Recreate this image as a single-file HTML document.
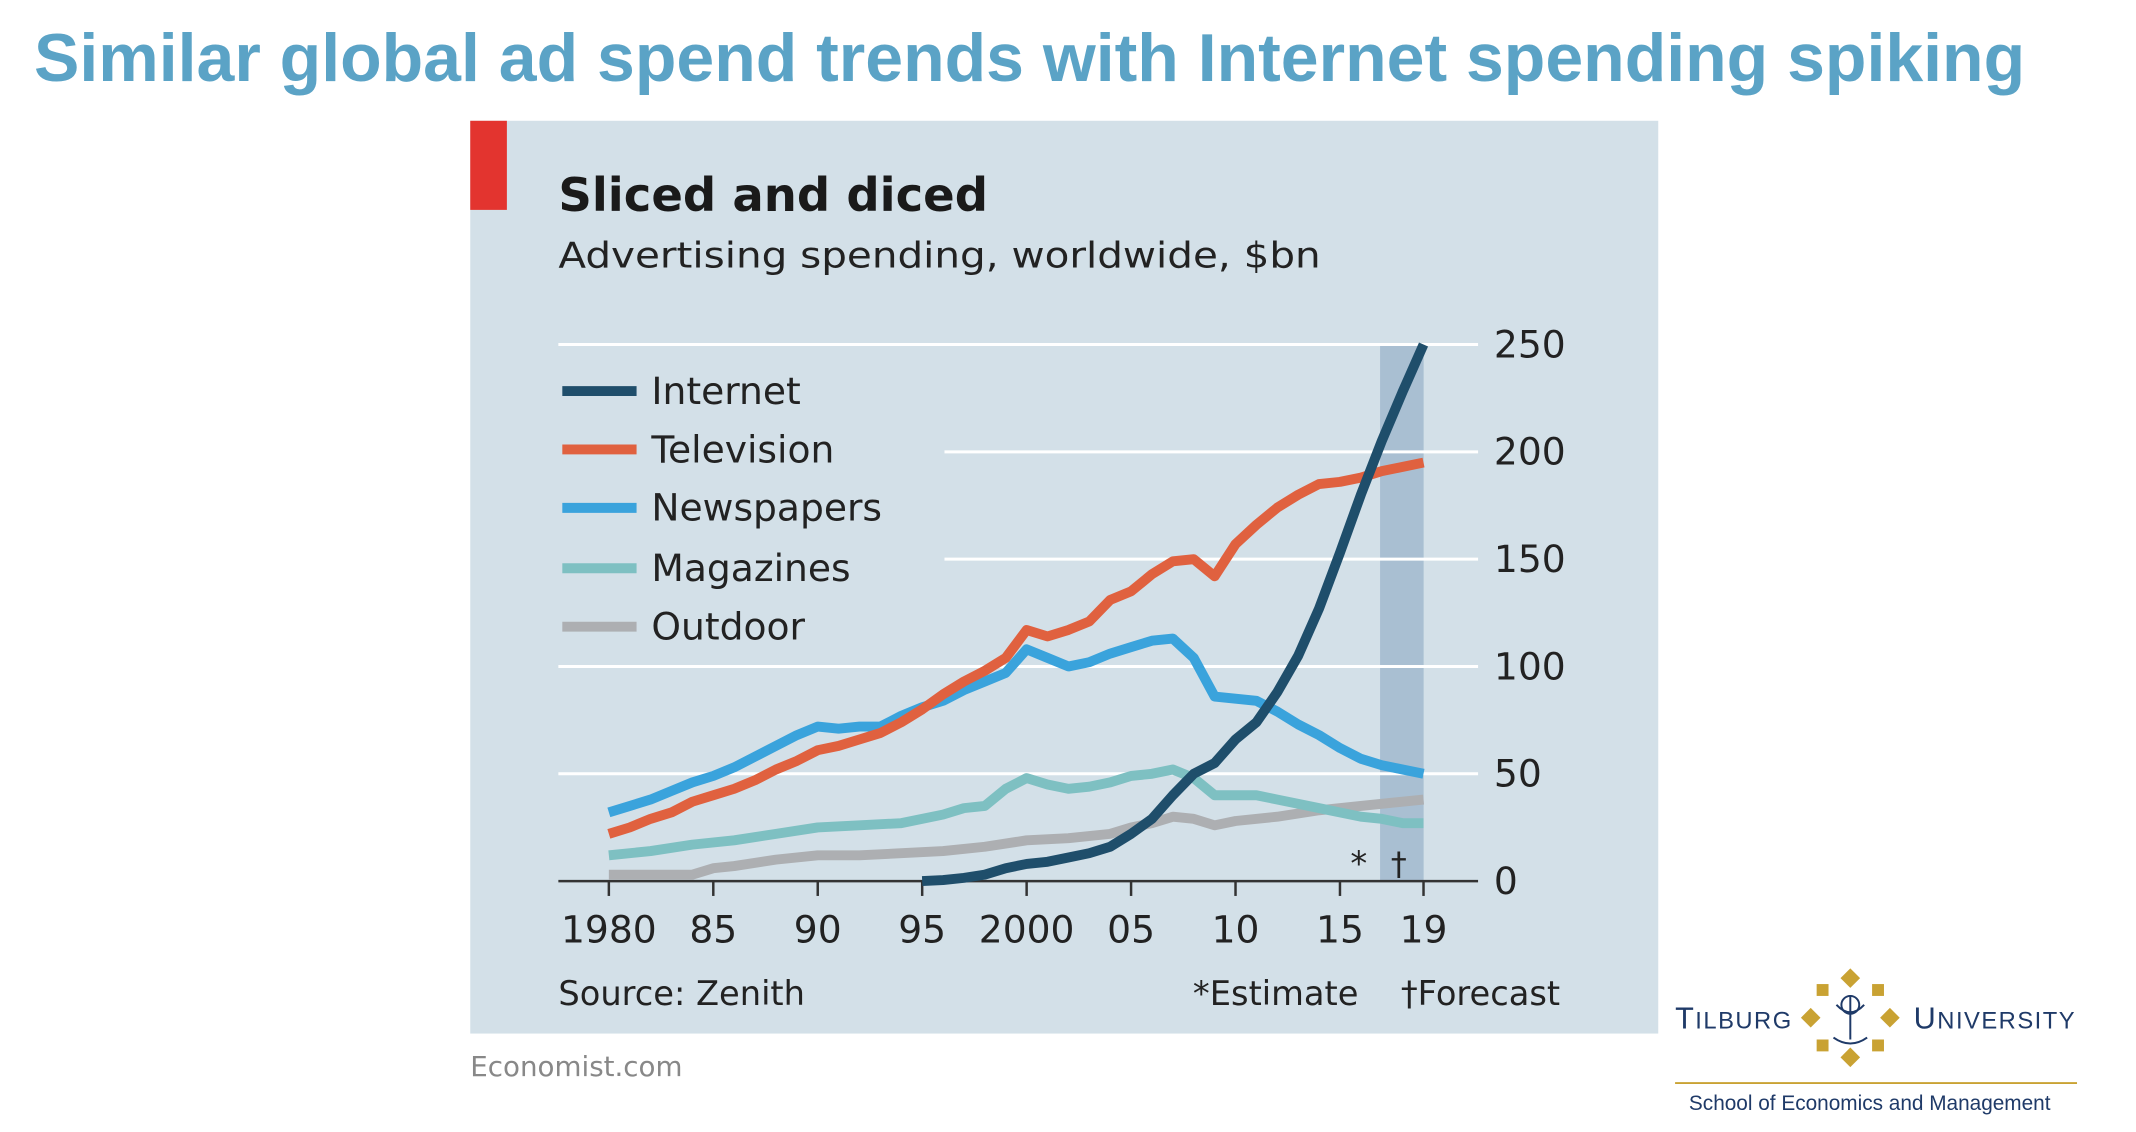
<!DOCTYPE html>
<html><head><meta charset="utf-8"><style>
body{margin:0;width:2136px;height:1132px;background:#fff;overflow:hidden;font-family:"Liberation Sans","DejaVu Sans",sans-serif;}
</style></head><body>
<svg id="s" width="2136" height="1132" xmlns="http://www.w3.org/2000/svg" style="position:absolute;left:0;top:0">
<text x="34" y="81" font-size="68" font-weight="bold" fill="#5BA3C6" font-family="Liberation Sans, sans-serif">Similar global ad spend trends with Internet spending spiking</text>
<g transform="scale(0.99)">
<rect x="475" y="122" width="1200" height="922" fill="#D3E0E8"/>
<rect x="475" y="122" width="37" height="90" fill="#E3342F"/>
<text x="564" y="213" font-size="47" font-weight="bold" fill="#1a1a1a" font-family="DejaVu Sans, sans-serif">Sliced and diced</text>
<text x="564" y="270" font-size="36" fill="#222" font-family="DejaVu Sans, sans-serif" textLength="770" lengthAdjust="spacingAndGlyphs">Advertising spending, worldwide, $bn</text>
<rect x="1394" y="348" width="44" height="542" fill="#A9BFD2"/>
<g id="grid" stroke="#fff" stroke-width="3"></g>
<g id="lines" fill="none" stroke-width="10" stroke-linejoin="round" stroke-linecap="butt"></g>
<g id="lab" font-family="DejaVu Sans, sans-serif" fill="#222"></g>
<text x="1364" y="884" font-size="34" fill="#222" font-family="DejaVu Sans, sans-serif">*</text>
<text x="1405" y="884" font-size="32" fill="#222" font-family="DejaVu Sans, sans-serif">†</text>
<text x="564" y="1015" font-size="34" fill="#222" font-family="DejaVu Sans, sans-serif">Source: Zenith</text>
<text x="1205" y="1015" font-size="34" fill="#222" font-family="DejaVu Sans, sans-serif">*Estimate</text>
<text x="1415" y="1015" font-size="34" fill="#222" font-family="DejaVu Sans, sans-serif">†Forecast</text>
<text x="475" y="1087" font-size="28" fill="#888" font-family="DejaVu Sans, sans-serif">Economist.com</text>
<text x="1692" y="1039" font-size="31" fill="#1F3A68" font-family="Liberation Sans, sans-serif" letter-spacing="1.5">T<tspan font-size="24">ILBURG</tspan></text>
<text x="1933" y="1039" font-size="31" fill="#1F3A68" font-family="Liberation Sans, sans-serif" letter-spacing="1.5">U<tspan font-size="24">NIVERSITY</tspan></text>
<g fill="#C9A233">
<rect x="1862" y="981" width="14" height="14" transform="rotate(45 1869 988)"/>
<rect x="1862" y="1061" width="14" height="14" transform="rotate(45 1869 1068)"/>
<rect x="1822" y="1021" width="14" height="14" transform="rotate(45 1829 1028)"/>
<rect x="1902" y="1021" width="14" height="14" transform="rotate(45 1909 1028)"/>
<rect x="1835" y="994" width="12" height="12"/><rect x="1891" y="994" width="12" height="12"/>
<rect x="1835" y="1050" width="12" height="12"/><rect x="1891" y="1050" width="12" height="12"/>
</g>
<g stroke="#1F3A68" stroke-width="2" fill="none"><path d="M1869 1005 V1050 M1855 1015 Q1869 1030 1883 1015 M1852 1048 Q1869 1060 1886 1048"/><circle cx="1869" cy="1015" r="9"/></g>
<line x1="1692" y1="1094" x2="2098" y2="1094" stroke="#C9A233" stroke-width="2"/>
<text x="1706" y="1121" font-size="21" fill="#1F3A68" font-family="Liberation Sans, sans-serif">School of Economics and Management</text>
</g>
</svg>
<script>
var X=function(y){return 615+(y-1980)*21.1},Y=function(v){return 890-v*2.168};
var ns="http://www.w3.org/2000/svg";
function el(p,t,a,txt){var e=document.createElementNS(ns,t);for(var k in a)e.setAttribute(k,a[k]);if(txt!=null)e.textContent=txt;document.getElementById(p).appendChild(e);return e;}
[250,200,150,100,50].forEach(function(v){el("grid","line",{x1:v>=150&&v<=200?954:564,x2:1493,y1:Y(v),y2:Y(v)});
el("lab","text",{x:1509,y:Y(v)+13,"font-size":38},String(v));});
el("lab","text",{x:1509,y:Y(0)+13,"font-size":38},"0");
el("grid","line",{x1:564,x2:1493,y1:890,y2:890,stroke:"#333","stroke-width":2.5});
[[1980,"1980"],[1985,"85"],[1990,"90"],[1995,"95"],[2000,"2000"],[2005,"05"],[2010,"10"],[2015,"15"],[2019,"19"]].forEach(function(t){
el("grid","line",{x1:X(t[0]),x2:X(t[0]),y1:890,y2:905,stroke:"#333","stroke-width":2.5});
el("lab","text",{x:X(t[0]),y:952,"font-size":38,"text-anchor":"middle"},t[1]);});
function ser(c,d){var p=[];for(var i=0;i<d.length;i+=2)p.push(X(d[i])+","+Y(d[i+1]));el("lines","polyline",{points:p.join(" "),stroke:c});}
ser("#ADAFB2",[1980,3,1984,3,1985,6,1986,7,1988,10,1990,12,1992,12,1994,13,1996,14,1998,16,2000,19,2002,20,2004,22,2005,25,2006,27,2007,30,2008,29,2009,26,2010,28,2012,30,2014,33,2016,35,2018,37,2019,38]);
ser("#7EC0C2",[1980,12,1982,14,1984,17,1986,19,1988,22,1990,25,1992,26,1994,27,1996,31,1997,34,1998,35,1999,43,2000,48,2001,45,2002,43,2003,44,2004,46,2005,49,2006,50,2007,52,2008,48,2009,40,2010,40,2011,40,2012,38,2013,36,2014,34,2015,32,2016,30,2017,29,2018,27,2019,27]);
ser("#3AA3DC",[1980,32,1981,35,1982,38,1983,42,1984,46,1985,49,1986,53,1987,58,1988,63,1989,68,1990,72,1991,71,1992,72,1993,72,1994,77,1995,81,1996,84,1997,89,1998,93,1999,97,2000,108,2001,104,2002,100,2003,102,2004,106,2005,109,2006,112,2007,113,2008,104,2009,86,2010,85,2011,84,2012,79,2013,73,2014,68,2015,62,2016,57,2017,54,2018,52,2019,50]);
ser("#E0613F",[1980,22,1981,25,1982,29,1983,32,1984,37,1985,40,1986,43,1987,47,1988,52,1989,56,1990,61,1991,63,1992,66,1993,69,1994,74,1995,80,1996,87,1997,93,1998,98,1999,104,2000,117,2001,114,2002,117,2003,121,2004,131,2005,135,2006,143,2007,149,2008,150,2009,142,2010,157,2011,166,2012,174,2013,180,2014,185,2015,186,2016,188,2017,191,2018,193,2019,195]);
ser("#1F4E6B",[1995,0,1996,0.5,1997,1.5,1998,3,1999,6,2000,8,2001,9,2002,11,2003,13,2004,16,2005,22,2006,29,2007,40,2008,50,2009,55,2010,66,2011,74,2012,88,2013,105,2014,127,2015,153,2016,180,2017,205,2018,228,2019,250]);
[["Internet","#1F4E6B",395],["Television","#E0613F",454],["Newspapers","#3AA3DC",513],["Magazines","#7EC0C2",574],["Outdoor","#ADAFB2",633]].forEach(function(l){
el("lines","line",{x1:568,x2:643,y1:l[2],y2:l[2],stroke:l[1],"stroke-width":10});
el("lab","text",{x:658,y:l[2]+13,"font-size":38},l[0]);});
</script>
</body></html>
